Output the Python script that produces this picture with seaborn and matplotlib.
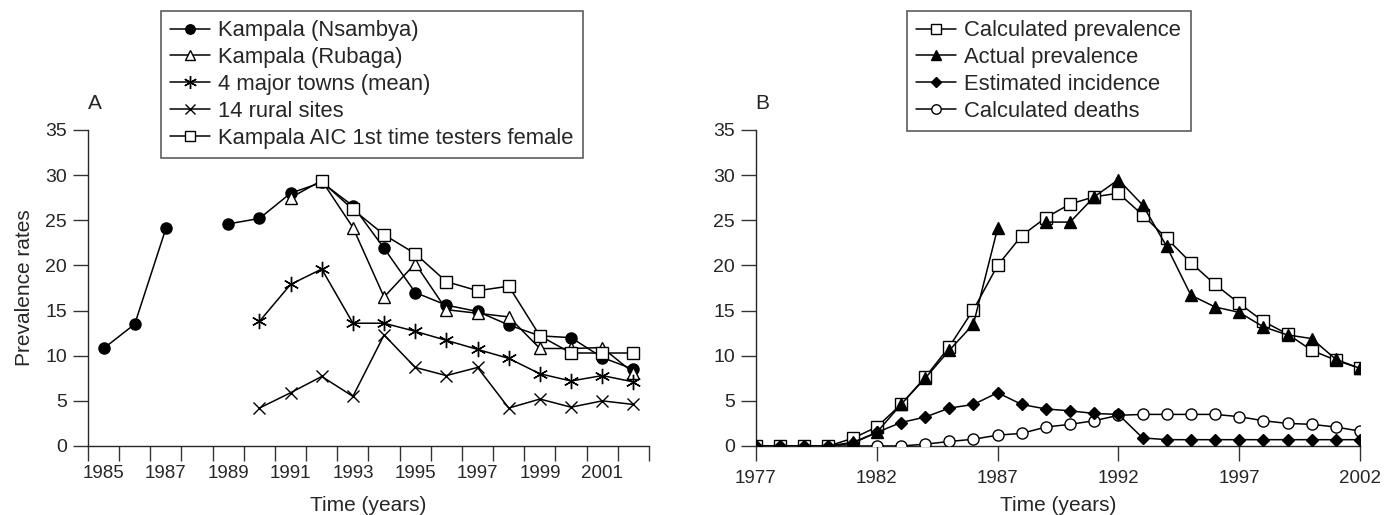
import numpy as np
import pandas as pd
import matplotlib
matplotlib.use('Agg')
import matplotlib.pyplot as plt
from matplotlib.lines import Line2D
import seaborn as sns

sns.set_style('ticks')
plt.rcParams['font.family'] = ['Liberation Sans', 'DejaVu Sans']

nan = np.nan

# Panel A data
years_a = list(range(1985, 2003))
nsambya = [10.8, 13.5, 24.1, nan, 24.6, 25.2, 28.0, 29.2, 26.6, 21.9, 17.0, 15.6, 14.9, 13.4, 12.2, 12.0, 9.8, 8.5]
rubaga = [nan, nan, nan, nan, nan, nan, 27.5, 29.4, 24.2, 16.5, 20.2, 15.1, 14.7, 14.3, 10.8, 10.8, 10.9, 8.1]
major_towns = [nan, nan, nan, nan, nan, 13.8, 17.9, 19.6, 13.6, 13.6, 12.7, 11.7, 10.7, 9.7, 8.0, 7.2, 7.8, 7.1]
rural_sites = [nan, nan, nan, nan, nan, 4.2, 5.9, 7.7, 5.5, 12.3, 8.7, 7.8, 8.7, 4.2, 5.2, 4.3, 5.0, 4.6]
aic_female = [nan, nan, nan, nan, nan, nan, nan, 29.3, 26.2, 23.4, 21.3, 18.2, 17.2, 17.7, 12.2, 10.3, 10.3, 10.3]

labels_a = ['Kampala (Nsambya)', 'Kampala (Rubaga)', '4 major towns (mean)',
            '14 rural sites', 'Kampala AIC 1st time testers female']

# Panel B data
years_b = list(range(1977, 2003))
calc_prev = [0, 0, 0, 0, 0.85, 2.1, 4.6, 7.6, 11.0, 15.1, 20.0, 23.3, 25.3, 26.8, 27.6, 28.0,
             25.6, 23.0, 20.3, 17.9, 15.8, 13.8, 12.4, 10.6, 9.5, 8.6]
actual_prev = [0, 0, 0, 0, 0.4, 1.5, 4.6, 7.5, 10.6, 13.5, 24.1, nan, 24.8, 24.8, 27.6, 29.5,
               26.7, 22.1, 16.7, 15.4, 14.8, 13.2, 12.3, 11.9, 9.6, 8.6]
est_incidence = [0, 0, 0, 0, 0.3, 1.5, 2.6, 3.2, 4.2, 4.6, 5.9, 4.6, 4.1, 3.9, 3.6, 3.5,
                 0.9, 0.7, 0.7, 0.7, 0.7, 0.7, 0.7, 0.7, 0.7, 0.7]
calc_deaths = [0, 0, 0, 0, 0, 0, 0, 0.2, 0.5, 0.75, 1.2, 1.4, 2.1, 2.4, 2.8, 3.4,
               3.5, 3.5, 3.5, 3.5, 3.25, 2.8, 2.5, 2.4, 2.1, 1.65]

labels_b = ['Calculated prevalence', 'Actual prevalence', 'Estimated incidence', 'Calculated deaths']

asterisk = (6, 2, 0)
styles_a = [dict(marker='o', mfc='black', ms=8),
            dict(marker='^', mfc='white', ms=9),
            dict(marker=asterisk, mfc='black', ms=11),
            dict(marker='x', mfc='black', ms=8),
            dict(marker='s', mfc='white', ms=8)]
styles_b = [dict(marker='s', mfc='white', ms=8),
            dict(marker='^', mfc='black', ms=8),
            dict(marker='D', mfc='black', ms=6),
            dict(marker='o', mfc='white', ms=8)]


def draw_series(ax, years, values, st, z):
    df = pd.DataFrame({'year': years, 'value': values})
    # split into runs so missing years give gaps
    df['seg'] = df['value'].isna().cumsum()
    df = df.dropna()
    for _, part in df.groupby('seg'):
        sns.lineplot(data=part, x='year', y='value', ax=ax, color='black', linewidth=1.1,
                     marker=st['marker'], markersize=st['ms'], markerfacecolor=st['mfc'],
                     markeredgecolor='black', markeredgewidth=1.0, zorder=z)


def handle(st):
    return Line2D([], [], color='black', linewidth=1.1, marker=st['marker'], markersize=st['ms'] * 0.85,
                  markerfacecolor=st['mfc'], markeredgecolor='black', markeredgewidth=1.0)


fig = plt.figure(figsize=(13.94, 5.15), dpi=100)
axA = fig.add_axes([88 / 1394, 69 / 515, 561 / 1394, 316 / 515])
axB = fig.add_axes([756 / 1394, 69 / 515, 604 / 1394, 316 / 515])

series_a = [nsambya, rubaga, major_towns, rural_sites, aic_female]
for i, (vals, st) in enumerate(zip(series_a, styles_a)):
    draw_series(axA, years_a, vals, st, 3 + i)

series_b = [calc_prev, actual_prev, est_incidence, calc_deaths]
order_b = [3, 0, 1, 2]
for i in order_b:
    draw_series(axB, years_b, series_b[i], styles_b[i], 3 + order_b.index(i))

for ax in (axA, axB):
    sns.despine(ax=ax)
    ax.set_ylim(0, 35)
    ax.set_yticks(range(0, 36, 5))
    ax.tick_params(axis='y', length=11, width=1, labelsize=14, pad=4, color='#333333')
    ax.spines['left'].set_linewidth(1.0)
    ax.spines['bottom'].set_linewidth(1.0)
    ax.set_xlabel('Time (years)', fontsize=15, labelpad=7)
    ax.set_ylabel('')

axA.set_xlim(1984.5, 2002.5)
axA.set_xticks(range(1985, 2002, 2))
axA.set_xticklabels([str(y) for y in range(1985, 2002, 2)])
axA.set_xticks(np.arange(1984.5, 2003, 1.0), minor=True)
axA.tick_params(axis='x', which='major', length=0, labelsize=13.5, pad=14)
axA.tick_params(axis='x', which='minor', length=11, width=1, color='#333333')
axA.xaxis.labelpad = 10
axA.set_ylabel('Prevalence rates', fontsize=15, labelpad=8)

axB.set_xlim(1977, 2002)
axB.set_xticks(range(1977, 2003, 5))
axB.tick_params(axis='x', length=11, width=1, labelsize=13.5, pad=6, color='#333333')

fig.text(88 / 1394, 1 - 109 / 515, 'A', fontsize=15, va='baseline', ha='left')
fig.text(755 / 1394, 1 - 109 / 515, 'B', fontsize=15, va='baseline', ha='left')

leg_kw = dict(loc='upper left', bbox_transform=fig.transFigure, fontsize=15.8, frameon=True,
              fancybox=False, borderaxespad=0, borderpad=0.42, handlelength=1.8,
              handletextpad=0.4, labelspacing=0.27)
legA = axA.legend([handle(s) for s in styles_a], labels_a,
                  bbox_to_anchor=(161 / 1394, 1 - 11 / 515), **leg_kw)
legB = axB.legend([handle(s) for s in styles_b], labels_b,
                  bbox_to_anchor=(907 / 1394, 1 - 11 / 515), **leg_kw)
for leg in (legA, legB):
    leg.get_frame().set_edgecolor('#333333')
    leg.get_frame().set_linewidth(1.2)

fig.savefig('out.png', dpi=100)
